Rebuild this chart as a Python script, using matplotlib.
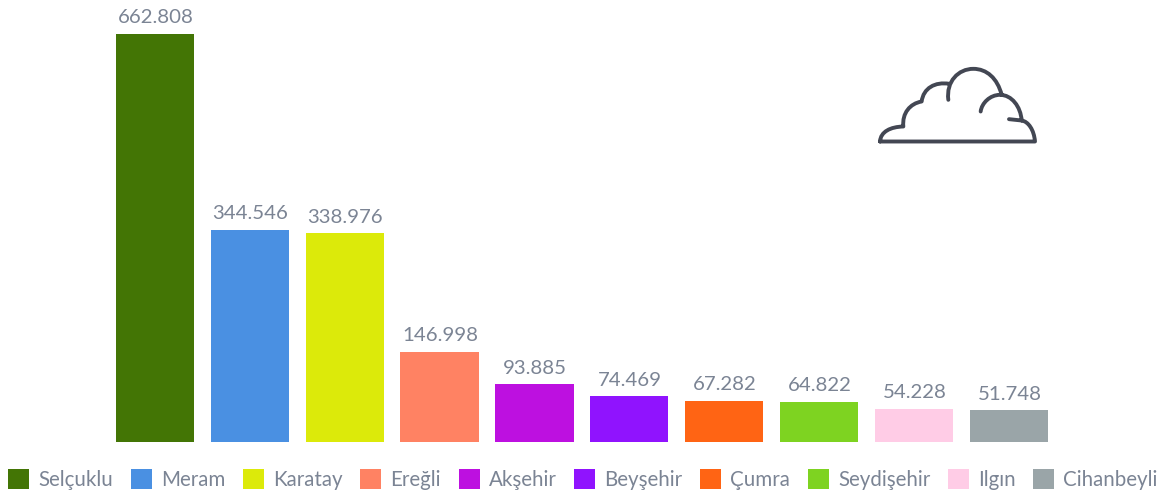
#! /usr/bin/python
# -*- coding: utf-8 -*-

import matplotlib
matplotlib.use("Agg")
import matplotlib.pyplot as plt
from matplotlib.path import Path
from matplotlib.patches import PathPatch, Patch

W, H = 1172, 492
plt.rcParams['font.family'] = ['Lato', 'DejaVu Sans']

districts = ["Selçuklu", "Meram", "Karatay", "Ereğli", "Akşehir",
             "Beyşehir", "Çumra", "Seydişehir", "Ilgın", "Cihanbeyli"]
values = [662.808, 344.546, 338.976, 146.998, 93.885,
          74.469, 67.282, 64.822, 54.228, 51.748]
colors = ["#437505", "#4a90e2", "#dcea0a", "#ff8263", "#bd10e0",
          "#9013fe", "#ff6414", "#7ed321", "#ffcce6", "#9aa5a8"]
text_color = "#7b8494"
icon_color = "#434753"

fig = plt.figure(figsize=(W / 100, H / 100), dpi=100)
ax = fig.add_axes([107.4 / W, 50 / H, 949 / W, 408 / H])

xs = range(len(values))
bars = ax.bar(xs, values, width=0.825, color=colors)
for x, v in zip(xs, values):
    ax.annotate("%.3f" % v, (x + 0.008, v), xytext=(0, 5.5), textcoords="offset points",
                ha="center", va="bottom", fontsize=14.7, color=text_color,
                annotation_clip=False)
ax.set_xlim(-0.5, 9.5)
ax.set_ylim(0, max(values))
ax.axis("off")

# legend under the bars
handles = [Patch(facecolor=c, edgecolor="none", label=n) for n, c in zip(districts, colors)]
fig.legend(handles=handles, ncol=10, loc="lower left", bbox_to_anchor=(0.0053, 0.0),
           frameon=False, fontsize=14.8, labelcolor=text_color,
           handlelength=1.02, handleheight=1.19, handletextpad=0.44,
           columnspacing=0.865, borderpad=0.1, borderaxespad=0.0)

# cloud icon, drawn in pixel coordinates of the picture
overlay = fig.add_axes([0, 0, 1, 1], facecolor="none")
overlay.set_xlim(0, W)
overlay.set_ylim(H, 0)
overlay.axis("off")


def px(x, y):
    return (860 + x / 3.0, 51.5 + y / 3.0)


M, L, C = Path.MOVETO, Path.LINETO, Path.CURVE4
cloud = [
    (M, 60, 270), (L, 525, 270),
    (C, 522, 235), (C, 505, 210), (C, 485, 207),
    (M, 447, 203), (L, 485, 207),
    (C, 482, 165), (C, 455, 130), (C, 420, 130),
    (C, 390, 130), (C, 365, 155), (C, 362, 180),
    (M, 425, 130),
    (C, 412, 80), (C, 380, 52), (C, 340, 52),
    (C, 295, 52), (C, 258, 90), (C, 265, 145),
    (M, 268, 97),
    (C, 225, 90), (C, 190, 110), (C, 185, 150),
    (C, 150, 156), (C, 126, 185), (C, 130, 225),
    (C, 92, 226), (C, 62, 240), (C, 60, 270),
]
codes = [c[0] for c in cloud]
verts = [px(c[1], c[2]) for c in cloud]
overlay.add_patch(PathPatch(Path(verts, codes), facecolor="none", edgecolor=icon_color,
                            linewidth=2.8, capstyle="round", joinstyle="round"))

fig.savefig("out.png", dpi=100)
